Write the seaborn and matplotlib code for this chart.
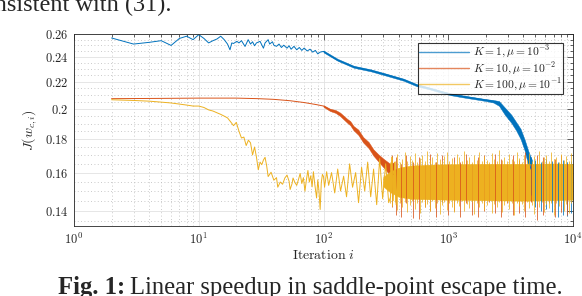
import matplotlib
matplotlib.use("Agg")
import matplotlib.pyplot as plt
from matplotlib.ticker import FixedLocator, FixedFormatter, MultipleLocator, NullFormatter
from matplotlib.lines import Line2D
import seaborn as sns

# values
# line part (smooth start + sparse noise)
blue_iter = [2, 3, 4, 5, 6, 7, 8, 9, 10, 11, 12, 13, 14, 15, 16, 17, 17.8, 18.4, 19, 20.2, 21, 22,
             23.5, 24.9, 26, 27, 28, 29, 31, 33, 34, 36, 37, 39, 40, 42, 44, 46, 48, 51, 53, 55,
             58, 61, 64, 67, 70, 74, 78, 82, 86, 90, 94, 100, 128, 174, 236, 322, 438, 560, 700,
             860, 1050, 1300, 1600, 2000, 2300, 2550, 2850, 3200, 3500, 3800, 4100, 4400, 4600]
blue_J = [0.2564, 0.2510, 0.2525, 0.2540, 0.2498, 0.2560, 0.2580, 0.2549, 0.2594, 0.2560, 0.2520,
          0.2540, 0.2555, 0.2580, 0.2549, 0.2510, 0.2460, 0.2520, 0.2515, 0.2534, 0.2520, 0.2540,
          0.2489, 0.2549, 0.2510, 0.2530, 0.2495, 0.2520, 0.2534, 0.2474, 0.2520, 0.2549, 0.2510,
          0.2530, 0.2500, 0.2490, 0.2510, 0.2480, 0.2500, 0.2474, 0.2495, 0.2465, 0.2490, 0.2460,
          0.2480, 0.2455, 0.2475, 0.2450, 0.2465, 0.2440, 0.2455, 0.2425, 0.2440, 0.2446, 0.2375,
          0.2318, 0.2289, 0.2254, 0.2215, 0.2173, 0.2150, 0.2126, 0.2105, 0.2090, 0.2077, 0.2063,
          0.2055, 0.2040, 0.1983, 0.1932, 0.1882, 0.1832, 0.1760, 0.1678, 0.1620]
# thickness of the noisy trace
blue_band_iter = [100, 130, 175, 240, 320, 440, 560, 700, 860, 1050, 1300, 1600, 2000, 2300,
                  2550, 2850, 3200, 3500, 3800, 4100, 4400, 4700]
blue_band_lo = [0.2438, 0.2367, 0.2310, 0.2281, 0.2246, 0.2207, 0.2165, 0.2143, 0.2119, 0.2098,
                0.2083, 0.2070, 0.2056, 0.2045, 0.2022, 0.1958, 0.1905, 0.1855, 0.1800, 0.1728,
                0.1635, 0.1560]
blue_band_hi = [0.2454, 0.2383, 0.2326, 0.2297, 0.2262, 0.2223, 0.2181, 0.2157, 0.2133, 0.2112,
                0.2097, 0.2084, 0.2070, 0.2063, 0.2056, 0.2008, 0.1960, 0.1910, 0.1865, 0.1795,
                0.1722, 0.1670]
# extent of visible noise spikes once the curve has settled
blue_spike_iter = [4600, 5000, 5500, 6100, 6800, 7600, 8300, 9000, 9700]
blue_spike_lo = [0.1480, 0.1420, 0.1400, 0.1410, 0.1395, 0.1370, 0.1380, 0.1375, 0.1390]
blue_spike_hi = [0.1690, 0.1670, 0.1660, 0.1680, 0.1665, 0.1660, 0.1670, 0.1660, 0.1665]

orange_iter = [2, 5, 10, 20, 30, 40, 54, 70, 88, 100, 113, 125, 136, 155, 164, 174, 190, 208, 230,
               251, 275, 302, 342, 360]
orange_J = [0.2073, 0.2075, 0.2077, 0.2077, 0.2073, 0.2068, 0.2058, 0.2045, 0.2030, 0.2020, 0.1993,
            0.1982, 0.1962, 0.1918, 0.1902, 0.1870, 0.1843, 0.1795, 0.1762, 0.1717, 0.1685, 0.1655,
            0.1617, 0.1590]
orange_band_iter = [100, 113, 125, 136, 155, 164, 174, 190, 208, 230, 251, 275, 302, 342, 370]
orange_band_lo = [0.2014, 0.1985, 0.1972, 0.1950, 0.1905, 0.1888, 0.1856, 0.1826, 0.1778, 0.1743,
                  0.1698, 0.1664, 0.1630, 0.1585, 0.1540]
orange_band_hi = [0.2026, 0.2001, 0.1992, 0.1974, 0.1931, 0.1916, 0.1884, 0.1860, 0.1812, 0.1781,
                  0.1736, 0.1706, 0.1680, 0.1650, 0.1660]
orange_spike_iter = [355, 380, 420, 460, 520, 580, 650, 720, 800, 890, 1000, 1110, 1240, 1380,
                     1540, 1720, 1920, 2140, 2390, 2670, 2980, 3330, 3720, 4150, 4630, 5170, 5770,
                     6440, 7190, 8030, 8960]
orange_spike_lo = [0.1420, 0.1380, 0.1370, 0.1440, 0.1365, 0.1360, 0.1420, 0.1400, 0.1370, 0.1445,
                   0.1380, 0.1400, 0.1370, 0.1440, 0.1380, 0.1370, 0.1400, 0.1445, 0.1390, 0.1370,
                   0.1440, 0.1380, 0.1390, 0.1370, 0.1445, 0.1355, 0.1380, 0.1440, 0.1370, 0.1395,
                   0.1380]
orange_spike_hi = [0.1700, 0.1690, 0.1650, 0.1700, 0.1660, 0.1690, 0.1650, 0.1710, 0.1660, 0.1700,
                   0.1650, 0.1690, 0.1660, 0.1710, 0.1650, 0.1690, 0.1700, 0.1650, 0.1710, 0.1680,
                   0.1650, 0.1700, 0.1670, 0.1720, 0.1650, 0.1700, 0.1690, 0.1650, 0.1680, 0.1700,
                   0.1650]

yellow_iter = [2, 3, 4, 5, 6, 7, 8, 9, 10, 11, 12, 13, 14, 15, 16, 17, 18, 19, 20, 21, 22, 23, 24,
               25, 26, 27, 28, 29, 30, 31, 32, 33, 34, 35, 36, 38, 40, 42, 43, 45, 47, 49, 51, 53,
               54, 56, 57, 59, 61, 63, 65, 67, 69, 71, 73, 75, 77, 79, 81, 83, 85, 88, 90, 92, 94,
               96, 98, 100, 102, 104, 106, 110, 116, 123, 130, 137, 145, 153, 162, 171, 181, 191,
               202, 214, 226, 239, 252, 267, 282, 298, 315, 333, 345, 352, 362, 372, 382, 393]
yellow_J = [0.2065, 0.2060, 0.2055, 0.2048, 0.2042, 0.2034, 0.2027, 0.2020, 0.2020, 0.2010, 0.1993,
            0.1985, 0.1973, 0.1962, 0.1950, 0.1938, 0.1912, 0.1886, 0.1908, 0.1850, 0.1806, 0.1812,
            0.1759, 0.1792, 0.1776, 0.1702, 0.1750, 0.1690, 0.1616, 0.1660, 0.1645, 0.1672, 0.1688,
            0.1640, 0.1578, 0.1602, 0.1558, 0.1572, 0.1520, 0.1548, 0.1536, 0.1570, 0.1586, 0.1552,
            0.1508, 0.1540, 0.1570, 0.1545, 0.1530, 0.1562, 0.1595, 0.1540, 0.1572, 0.1499, 0.1562,
            0.1612, 0.1548, 0.1582, 0.1522, 0.1605, 0.1540, 0.1464, 0.1560, 0.1500, 0.1406, 0.1545,
            0.1590, 0.1578, 0.1520, 0.1562, 0.1605, 0.1530, 0.1600, 0.1490, 0.1620, 0.1500, 0.1580,
            0.1470, 0.1650, 0.1520, 0.1600, 0.1440, 0.1630, 0.1500, 0.1660, 0.1470, 0.1620, 0.1430,
            0.1680, 0.1460, 0.1650, 0.1440, 0.1470, 0.1690, 0.1450, 0.1660, 0.1430, 0.1650]
yellow_band_iter = [300, 340, 400, 500, 700, 1000, 2000, 4000, 7000, 10000]
yellow_band_lo = [0.1525, 0.1495, 0.1470, 0.1460, 0.1457, 0.1455, 0.1452, 0.1450, 0.1452, 0.1455]
yellow_band_hi = [0.1575, 0.1605, 0.1628, 0.1640, 0.1645, 0.1648, 0.1650, 0.1650, 0.1652, 0.1650]
yellow_spike_iter = [340, 356, 373, 390, 408, 428, 448, 469, 491, 514, 538, 563, 590, 617, 646,
                     677, 709, 742, 777, 813, 851, 891, 933, 977, 1023, 1071, 1121, 1174, 1229,
                     1287, 1347, 1410, 1477, 1546, 1619, 1695, 1774, 1858, 1945, 2036, 2132, 2232,
                     2337, 2447, 2562, 2682, 2808, 2940, 3078, 3223, 3374, 3533, 3699, 3873, 4055,
                     4245, 4445, 4654, 4872, 5101, 5341, 5592, 5855, 6130, 6418, 6720, 7035, 7366,
                     7712, 8074, 8454, 8851, 9267, 9702]
yellow_spike_lo = [0.1440, 0.1425, 0.1445, 0.1405, 0.1438, 0.1418, 0.1442, 0.1395, 0.1430, 0.1446,
                   0.1410, 0.1436, 0.1388, 0.1442, 0.1420, 0.1434, 0.1400, 0.1446, 0.1415, 0.1438,
                   0.1385, 0.1428, 0.1444, 0.1405, 0.1436, 0.1418, 0.1392, 0.1440, 0.1425, 0.1446,
                   0.1398, 0.1432, 0.1412, 0.1444, 0.1382, 0.1436, 0.1420, 0.1440, 0.1402, 0.1430,
                   0.1446, 0.1388, 0.1434, 0.1416, 0.1442, 0.1396, 0.1428, 0.1445, 0.1408, 0.1437,
                   0.1380, 0.1440, 0.1422, 0.1434, 0.1398, 0.1444, 0.1412, 0.1430, 0.1386, 0.1440,
                   0.1420, 0.1445, 0.1395, 0.1432, 0.1414, 0.1440, 0.1380, 0.1436, 0.1424, 0.1442,
                   0.1400, 0.1434, 0.1390, 0.1438]
yellow_spike_hi = [0.1660, 0.1690, 0.1668, 0.1705, 0.1662, 0.1680, 0.1722, 0.1665, 0.1695, 0.1670,
                   0.1712, 0.1663, 0.1685, 0.1700, 0.1667, 0.1728, 0.1672, 0.1690, 0.1661, 0.1715,
                   0.1676, 0.1664, 0.1698, 0.1720, 0.1668, 0.1684, 0.1662, 0.1708, 0.1692, 0.1666,
                   0.1725, 0.1670, 0.1688, 0.1663, 0.1702, 0.1675, 0.1718, 0.1665, 0.1694, 0.1670,
                   0.1660, 0.1712, 0.1680, 0.1667, 0.1730, 0.1672, 0.1690, 0.1664, 0.1706, 0.1678,
                   0.1668, 0.1722, 0.1685, 0.1662, 0.1700, 0.1674, 0.1715, 0.1666, 0.1695, 0.1670,
                   0.1728, 0.1664, 0.1688, 0.1702, 0.1668, 0.1720, 0.1676, 0.1692, 0.1663, 0.1710,
                   0.1672, 0.1698, 0.1666, 0.1714]

series_labels = [r'$K=1, \mu=10^{-3}$', r'$K=10, \mu=10^{-2}$', r'$K=100, \mu=10^{-1}$']
colors = ['#0072BD', '#D95319', '#EDB120']

y_ticks = [0.14, 0.16, 0.18, 0.2, 0.22, 0.24, 0.26]
y_ticklabels = ['0.14', '0.16', '0.18', '0.2', '0.22', '0.24', '0.26']
x_ticks = [1, 10, 100, 1000, 10000]
x_ticklabels = ['10^{0}', '10^{1}', '10^{2}', '10^{3}', '10^{4}']

sns.set_style("white")
plt.rcParams['mathtext.fontset'] = 'cm'
plt.rcParams['font.family'] = ['Liberation Serif', 'DejaVu Serif']

fig = plt.figure(figsize=(5.82, 2.96), dpi=100)
ax = fig.add_axes([74 / 582, 1 - 226 / 296, 499 / 582, 192 / 296])

lw = 0.7
series = [
    (blue_iter, blue_J, blue_band_iter, blue_band_lo, blue_band_hi,
     blue_spike_iter, blue_spike_lo, blue_spike_hi),
    (orange_iter, orange_J, orange_band_iter, orange_band_lo, orange_band_hi,
     orange_spike_iter, orange_spike_lo, orange_spike_hi),
    (yellow_iter, yellow_J, yellow_band_iter, yellow_band_lo, yellow_band_hi,
     yellow_spike_iter, yellow_spike_lo, yellow_spike_hi),
]
for (it, J, bi, lo, hi, si, slo, shi), c in zip(series, colors):
    ax.fill_between(bi, lo, hi, color=c, linewidth=0.3, edgecolor=c)
    ax.vlines(si, slo, shi, color=c, linewidth=0.55)
    sns.lineplot(x=it, y=J, ax=ax, color=c, linewidth=lw, sort=False, estimator=None)

ax.set_xscale('log')
ax.set_yscale('log')
ax.set_xlim(1, 1e4)
ax.set_ylim(0.1327, 0.26)

ax.xaxis.set_major_locator(FixedLocator(x_ticks))
ax.xaxis.set_major_formatter(FixedFormatter(['$' + s + '$' for s in x_ticklabels]))
ax.xaxis.set_minor_locator(FixedLocator([m * d for d in [1, 10, 100, 1000] for m in range(2, 10)]))
ax.xaxis.set_minor_formatter(NullFormatter())
ax.yaxis.set_major_locator(FixedLocator(y_ticks))
ax.yaxis.set_major_formatter(FixedFormatter(['$' + s + '$' for s in y_ticklabels]))
ax.yaxis.set_minor_locator(MultipleLocator(0.005))
ax.yaxis.set_minor_formatter(NullFormatter())

ax.set_axisbelow(True)
ax.grid(which='major', color='#e2e2e2', linewidth=0.6, linestyle='-')
ax.grid(which='minor', color='#b8b8b8', linewidth=0.6, linestyle=(0, (1, 3)))
ax.tick_params(which='both', direction='in', top=True, right=True, colors='#262626',
               labelsize=9, width=0.5)
ax.tick_params(which='major', length=4, pad=4)
ax.tick_params(which='minor', length=2)
for sp in ax.spines.values():
    sp.set_color('#262626')
    sp.set_linewidth(0.6)

ax.set_xlabel(r'$\mathrm{Iteration}\ i$', fontsize=10, labelpad=2)
ax.set_ylabel(r'$J(w_{c,i})$', fontsize=10, labelpad=4)

handles = [Line2D([], [], color=c, linewidth=1.0, alpha=0.7) for c in colors]
leg = ax.legend(handles, series_labels, loc='upper right', bbox_to_anchor=(0.98, 0.953),
                borderaxespad=0, fontsize=8.3, handlelength=4.4, frameon=True, fancybox=False,
                labelspacing=0.0, borderpad=0.1, handletextpad=0.3)
leg.get_frame().set_edgecolor('#000000')
leg.get_frame().set_linewidth(0.8)

# surrounding paper text
fig.text(171 / 582, 1 - 11 / 296, 'consistent with (31).', ha='right', va='baseline',
         fontsize=17.5)
t1 = fig.text(58 / 582, 1 - 294 / 296, 'Fig. 1:', ha='left', va='baseline', fontsize=17.7,
              fontweight='bold')
r = fig.canvas.get_renderer()
bb = t1.get_window_extent(renderer=r)
fig.text(bb.x1 / 582 + 5 / 582, 1 - 294 / 296, 'Linear speedup in saddle-point escape time.',
         ha='left', va='baseline', fontsize=17.7)

fig.savefig('out.png', dpi=100)
